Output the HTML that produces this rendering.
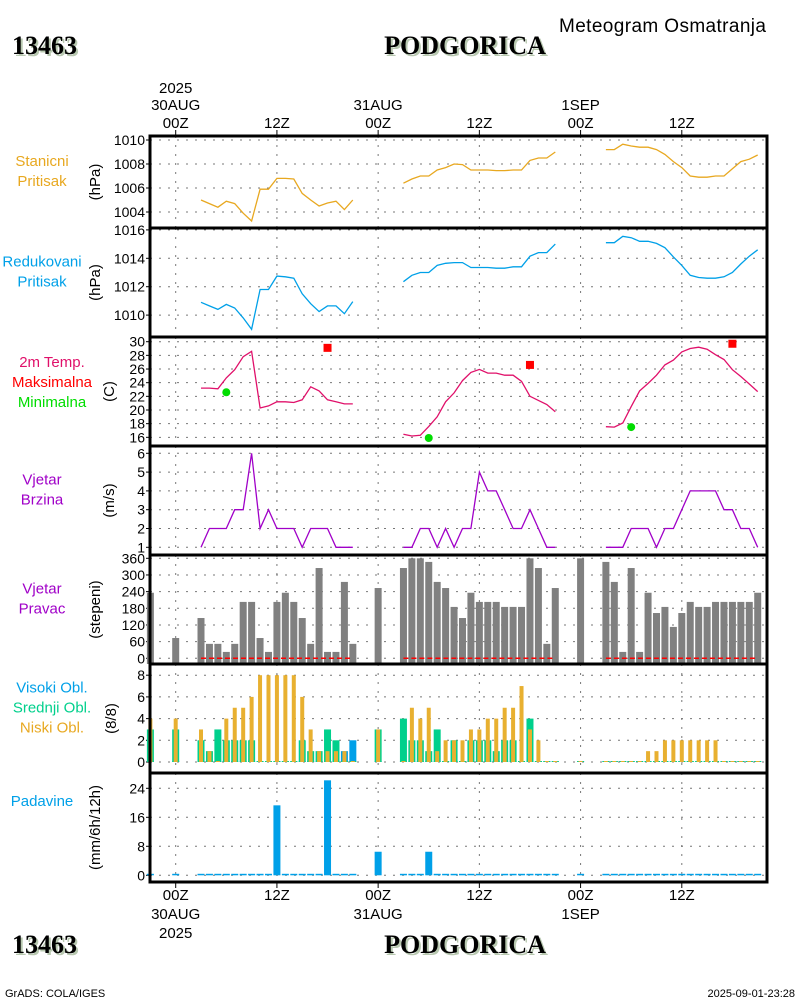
<!DOCTYPE html>
<html><head><meta charset="utf-8"><title>Meteogram Osmatranja - PODGORICA</title>
<style>
html,body{margin:0;padding:0;background:#fff;}
body{width:800px;height:1000px;overflow:hidden;font-family:"Liberation Sans",sans-serif;}
svg text{font-family:"Liberation Sans",sans-serif;}
.ttl{font-family:"Liberation Serif",serif;font-weight:bold;font-size:26px;}
</style></head>
<body>
<svg id="chart" width="800" height="1000" viewBox="0 0 800 1000" xmlns="http://www.w3.org/2000/svg">
<g>
<text x="559" y="32" font-size="19" fill="#000" textLength="207">Meteogram Osmatranja</text>
<text class="ttl" x="14" y="56" fill="#b8c8b0">13463</text>
<text class="ttl" x="12" y="54" fill="#000">13463</text>
<text class="ttl" x="467" y="56" fill="#b8c8b0" text-anchor="middle">PODGORICA</text>
<text class="ttl" x="465" y="54" fill="#000" text-anchor="middle">PODGORICA</text>
</g>
<g>
<text class="ttl" x="14" y="955" fill="#b8c8b0">13463</text>
<text class="ttl" x="12" y="953" fill="#000">13463</text>
<text class="ttl" x="467" y="955" fill="#b8c8b0" text-anchor="middle">PODGORICA</text>
<text class="ttl" x="465" y="953" fill="#000" text-anchor="middle">PODGORICA</text>
<text x="5" y="997" font-size="11" fill="#000">GrADS: COLA/IGES</text>
<text x="795" y="997" font-size="11" fill="#000" text-anchor="end">2025-09-01-23:28</text>
</g>
<g id="plot"></g>
</svg>
<script>
// ---- data (hourly, hour offsets from 00Z 30AUG 2025) ----
const hours = [];
for (let h = -3; h <= 69; h++) hours.push(h);
const N = null;
const stnPressure = [N,N,N,N,N,N,
 1005.0,1004.7,1004.4,1004.9,1004.7,1003.9,1003.25,1005.9,1005.9,1006.8,1006.8,1006.75,1005.55,1005.0,1004.5,1004.75,1004.9,1004.2,1005.0,
 N,N,N,N,N,
 1006.4,1006.75,1007.0,1007.0,1007.5,1007.7,1008.0,1007.95,1007.5,1007.5,1007.5,1007.45,1007.45,1007.5,1007.5,1008.3,1008.5,1008.5,1009.0,
 N,N,N,N,N,
 1009.2,1009.2,1009.65,1009.5,1009.4,1009.4,1009.2,1008.8,1008.2,1007.7,1007.0,1006.9,1006.9,1007.0,1007.0,1007.6,1008.2,1008.4,1008.75];
const redPressure = [N,N,N,N,N,N,
 1010.9,1010.65,1010.4,1010.75,1010.5,1009.8,1009.0,1011.8,1011.8,1012.75,1012.7,1012.6,1011.5,1010.8,1010.25,1010.65,1010.65,1010.1,1010.95,
 N,N,N,N,N,
 1012.35,1012.8,1013.0,1013.0,1013.5,1013.65,1013.7,1013.7,1013.35,1013.35,1013.35,1013.3,1013.3,1013.4,1013.4,1014.15,1014.4,1014.4,1015.0,
 N,N,N,N,N,
 1015.1,1015.1,1015.55,1015.45,1015.2,1015.2,1015.05,1014.75,1014.1,1013.5,1012.8,1012.65,1012.6,1012.6,1012.7,1013.0,1013.6,1014.15,1014.6];
const temp2m = [N,N,N,N,N,N,
 23.2,23.2,23.1,24.7,25.9,27.8,28.6,20.3,20.6,21.2,21.2,21.1,21.5,23.4,22.8,21.5,21.2,20.9,20.9,
 N,N,N,N,N,
 16.45,16.2,16.3,17.6,19.0,21.2,22.5,24.3,25.5,25.95,25.4,25.4,25.1,25.1,24.2,22.0,21.4,20.8,19.75,
 N,N,N,N,N,
 17.55,17.5,18.1,20.5,22.8,23.9,25.1,26.6,27.3,28.5,29.0,29.2,28.9,28.1,27.4,25.9,24.9,23.8,22.7];
const tmaxHours = [18, 42, 66];
const tmaxValues = [29.1, 26.6, 29.7];
const tminHours = [6, 30, 54];
const tminValues = [22.6, 15.9, 17.5];
const windSpeed = [N,N,N,N,N,N,
 1,2,2,2,3,3,6,2,3,2,2,2,1,2,2,2,1,1,1,
 N,N,N,N,N,
 1,1,2,2,1,2,1,2,2,5,4,4,3,2,2,3,2,1,1,
 N,N,N,N,N,
 1,1,1,2,2,2,1,2,2,3,4,4,4,4,3,3,2,2,1];
const windDir = [236,N,N,73,N,N,
 145,52,52,23,52,203,203,73,23,203,236,203,145,52,325,23,23,275,52,
 N,N,253,N,N,
 325,360,360,347,275,253,185,145,236,203,203,203,185,185,185,360,325,52,253,
 N,N,360,N,N,
 347,275,23,325,23,236,163,185,113,163,203,185,185,203,203,203,203,203,236];
const cloudLow = [4,N,N,4,N,N,
 3,1,0,4,5,5,6,8,8,8,8,8,6,3,1,1,1,1,0,
 N,N,3,N,N,
 0,5,4,5,1,2,2,2,3,3,4,4,5,5,7,3,2,0,0,
 N,N,0,N,N,
 0,0,0,0,0,1,1,2,2,2,2,2,2,2,0,0,0,0,0];
const cloudMid = [3,N,N,3,N,N,
 2,1,3,2,2,2,2,0,0,0,0,0,2,1,1,3,2,0,0,
 N,N,3,N,N,
 4,2,2,1,3,0,2,0,2,2,2,1,2,2,0,4,0,0,0,
 N,N,0,N,N,
 0,0,0,0,0,0,0,0,0,0,0,0,0,0,0,0,0,0,0];
const cloudHigh = [0,N,N,0,N,N,
 0,0,0,0,0,0,0,0,0,0,0,0,0,0,0,0,0,1,2,
 N,N,0,N,N,
 0,0,0,0,0,0,0,0,0,0,0,0,0,0,0,0,0,0,0,
 N,N,0,N,N,
 0,0,0,0,0,0,0,0,0,0,0,0,0,0,0,0,0,0,0];
const precip = [0,N,N,0,N,N,
 0,0,0,0,0,0,0,0,0,19.3,0,0,0,0,0,26.2,0,0,0,
 N,N,6.5,N,N,
 0,0,0,6.5,0,0,0,0,0,0,0,0,0,0,0,0,0,0,0,
 N,N,0,N,N,
 0,0,0,0,0,0,0,0,0,0,0,0,0,0,0,0,0,0,0];
const timeTickHours = [0,12,24,36,48,60];
const timeTickLabels = ["00Z","12Z","00Z","12Z","00Z","12Z"];
const dateTickLabels = ["30AUG","","31AUG","","1SEP",""];

// ---- layout / scales ----
const X0 = 150, X1 = 767;
function xs(h){ return 175.7 + h*8.435; }
const svg = document.getElementById('plot');
const NS = 'http://www.w3.org/2000/svg';
function el(tag, attrs, parent){
  const e = document.createElementNS(NS, tag);
  for (const k in attrs) e.setAttribute(k, attrs[k]);
  (parent||svg).appendChild(e);
  return e;
}
function txt(x,y,s,attrs,parent){
  const t = el('text', Object.assign({x:x,y:y},attrs||{}), parent);
  t.textContent = s; return t;
}
const panels = [
 {name:'station-pressure', top:136, bot:228, y:v=>140+(1010-v)*12, ticks:[1004,1006,1008,1010], unit:'(hPa)', unitX:96,
  labels:[['Stanicni','#e8a820'],['Pritisak','#e8a820']]},
 {name:'reduced-pressure', top:228, bot:337, y:v=>258.3+(1014-v)*14.2, ticks:[1010,1012,1014,1016], unit:'(hPa)', unitX:96,
  labels:[['Redukovani','#00a0e8'],['Pritisak','#00a0e8']]},
 {name:'temperature', top:337, bot:446, y:v=>341.7+(30-v)*6.83, ticks:[16,18,20,22,24,26,28,30], unit:'(C)', unitX:110,
  labels:[['2m Temp.','#e0106a'],['Maksimalna','#ff0000'],['Minimalna','#00dd00']]},
 {name:'wind-speed', top:446, bot:555, y:v=>547.3-(v-1)*18.8, ticks:[1,2,3,4,5,6], unit:'(m/s)', unitX:110,
  labels:[['Vjetar','#a000c8'],['Brzina','#a000c8']]},
 {name:'wind-direction', top:555, bot:664, y:v=>658.3-v*100/360, ticks:[0,60,120,180,240,300,360], unit:'(stepeni)', unitX:96,
  labels:[['Vjetar','#a000c8'],['Pravac','#a000c8']]},
 {name:'cloud-cover', top:664, bot:773, y:v=>762-v*10.85, ticks:[0,2,4,6,8], unit:'(8/8)', unitX:112,
  labels:[['Visoki Obl.','#00a0e8'],['Srednji Obl.','#00d08c'],['Niski Obl.','#e8a820']]},
 {name:'precipitation', top:773, bot:882, y:v=>875.3-v*3.625, ticks:[0,8,16,24], unit:'(mm/6h/12h)', unitX:96,
  labels:[['Padavine','#00a0e8']]}
];

panels.forEach(p=>{
  const g = el('g', {});
  
  
  p.ticks.forEach(t=>{
    const yy = p.y(t);
    const gl = el('line',{x1:X0,x2:X1,y1:yy,y2:yy,stroke:'#777','stroke-width':1,'stroke-dasharray':'2,7'},g);
    
    
    el('line',{x1:146,x2:150,y1:yy,y2:yy,stroke:'#000','stroke-width':1},g);
    const tl = txt(145,yy+5,String(t),{'font-size':14,'text-anchor':'end',fill:'#000'},g);
    
    
  });
  timeTickHours.forEach(h=>{
    const xx = xs(h);
    el('line',{x1:xx,x2:xx,y1:p.top,y2:p.bot,stroke:'#777','stroke-width':1,'stroke-dasharray':'2,7'},g);
  });
  const cy = (p.top+p.bot)/2;
  const u = txt(p.unitX, cy, p.unit, {'font-size':15,'text-anchor':'middle',fill:'#000',transform:'rotate(-90 '+p.unitX+' '+cy+')','dominant-baseline':'middle'}, g);
  
  
  const n = p.labels.length, lh = 20;
  const lcy = p.name==='precipitation' ? 802 : (p.name==='temperature'? 383 : cy - 10);
  p.labels.forEach((l,i)=>{
    const t = txt(p.name==='temperature'||p.name==='cloud-cover'?52:42, lcy + (i-(n-1)/2)*lh, l[0], {'font-size':15,'text-anchor':'middle',fill:l[1],'dominant-baseline':'middle'}, g);
    
    
  });
  p.g = g;
});

function linePath(arr, yf, color, name, g){
  let d = '', pen = false;
  arr.forEach((v,i)=>{
    if (v===null){ pen=false; return; }
    d += (pen?'L':'M') + xs(hours[i]).toFixed(1) + ',' + yf(v).toFixed(1);
    pen = true;
  });
  const p = el('path',{d:d,fill:'none',stroke:color,'stroke-width':1.3},g);
  
  
}
linePath(stnPressure, panels[0].y, '#e8a820', 'station-pressure-line', panels[0].g);
linePath(redPressure, panels[1].y, '#00a0e8', 'reduced-pressure-line', panels[1].g);
linePath(temp2m, panels[2].y, '#e0106a', 'temperature-line', panels[2].g);
linePath(windSpeed, panels[3].y, '#a000c8', 'wind-speed-line', panels[3].g);

tmaxHours.forEach((h,i)=>{
  const r = el('rect',{x:xs(h)-4,y:panels[2].y(tmaxValues[i])-4,width:8,height:8,fill:'#ff0000'},panels[2].g);
  
  
});
tminHours.forEach((h,i)=>{
  const c = el('circle',{cx:xs(h),cy:panels[2].y(tminValues[i]),r:4,fill:'#00dd00'},panels[2].g);
  
  
});

const pd = panels[4];
windDir.forEach((v,i)=>{
  if (v===null) return;
  const yy = pd.y(v);
  const b = el('rect',{x:xs(hours[i])-3.5,y:yy,width:7,height:pd.bot-yy,fill:'#808080'},pd.g);
  
  
});
(function(){
  let d='', pen=false;
  windSpeed.forEach((v,i)=>{
    if (v===null){pen=false;return;}
    d += (pen?'L':'M') + xs(hours[i]).toFixed(1) + ',' + pd.y(0).toFixed(1);
    pen=true;
  });
  const p = el('path',{d:d,fill:'none',stroke:'#ff0000','stroke-width':1.5,'stroke-dasharray':'5,3'},pd.g);
  
  
})();

const pc = panels[5];
function cloudBars(arr, color, w, name){
  arr.forEach((v,i)=>{
    if (v===null) return;
    const y0 = pc.y(0), yy = pc.y(v);
    const hgt = Math.max(1, y0-yy);
    const b = el('rect',{x:xs(hours[i])-w/2,y:y0-hgt,width:w,height:hgt,fill:color},pc.g);
    
    
  });
}
cloudBars(cloudHigh, '#00a0e8', 7, 'high-cloud-bar');
cloudBars(cloudMid, '#00d08c', 7, 'mid-cloud-bar');
cloudBars(cloudLow, '#e8b030', 4, 'low-cloud-bar');

const pp = panels[6];
precip.forEach((v,i)=>{
  if (v===null) return;
  const y0 = pp.y(0), yy = pp.y(v);
  const hgt = Math.max(1.5, y0-yy);
  const b = el('rect',{x:xs(hours[i])-3.5,y:y0-hgt,width:7,height:hgt,fill:'#00a0e8'},pp.g);
  
  
});

panels.forEach((p,i)=>{
  if (i>0){
    const s = el('line',{x1:X0,x2:X1,y1:p.top,y2:p.top,stroke:'#000','stroke-width':3});
    
    
  }
});
const fr = el('rect',{x:X0,y:136,width:X1-X0,height:882-136,fill:'none',stroke:'#000','stroke-width':3});



const ta = el('g',{});


timeTickHours.forEach((h,i)=>{
  const xx = xs(h);
  el('line',{x1:xx,x2:xx,y1:130,y2:136,stroke:'#000','stroke-width':1},ta);
  el('line',{x1:xx,x2:xx,y1:882,y2:888,stroke:'#000','stroke-width':1},ta);
  const t1 = txt(xx,128,timeTickLabels[i],{'font-size':15,'text-anchor':'middle',fill:'#000'},ta);
  
  
  const t2 = txt(xx,900,timeTickLabels[i],{'font-size':15,'text-anchor':'middle',fill:'#000'},ta);
  
  
  if (dateTickLabels[i]){
    const d1 = txt(xx,110,dateTickLabels[i],{'font-size':15,'text-anchor':'middle',fill:'#000'},ta);
    
    
    const d2 = txt(xx,919,dateTickLabels[i],{'font-size':15,'text-anchor':'middle',fill:'#000'},ta);
    
    
  }
});
const y1 = txt(xs(0),93,'2025',{'font-size':15,'text-anchor':'middle',fill:'#000'},ta);


const y2 = txt(xs(0),938,'2025',{'font-size':15,'text-anchor':'middle',fill:'#000'},ta);


</script>
</body></html>
